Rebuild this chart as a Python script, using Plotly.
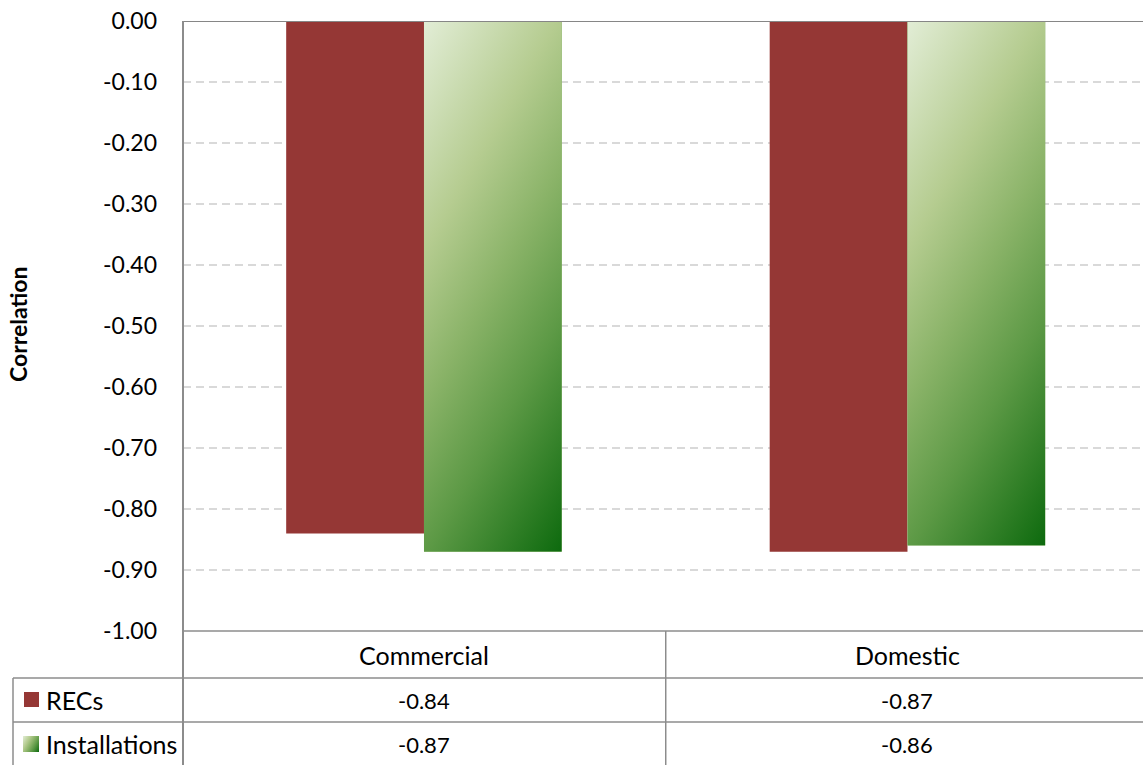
import base64
import plotly.graph_objects as go

# Correlation of each series with the driver, per sector
categories = ["Commercial", "Domestic"]
series_names = ["RECs", "Installations"]
recs = [-0.84, -0.87]
installations = [-0.87, -0.86]
y_ticks = [0, -0.1, -0.2, -0.3, -0.4, -0.5, -0.6, -0.7, -0.8, -0.9, -1.0]

W, H = 1143, 765
L, R, T, B = 183, 0, 21, 134
PW, PH = W - L - R, H - T - B
FONT = "Lato, 'Open Sans', sans-serif"
RED = "#953735"
GRID = "#d9d9d9"
LINE = "#8c8c8c"
BAR_W = 0.285
X_RANGE = [-0.4984, 1.4871]
Y_RANGE = [-1.0, 0.0]
WORD_SIZE = 25
NUM_SIZE = 22

GRAD_STOPS = [(0.0, "#e2edd6"), (0.3, "#b5cc90"), (0.5, "#8ab368"),
              (0.7, "#5c9945"), (1.0, "#0d6a0e")]


def gradient_uri(w, h):
    """Diagonal green fill as an SVG data URI, w x h in pixels."""
    nx, ny = 0.865, 0.501
    length = nx * w + ny * h
    stops = "".join(f'<stop offset="{o}" stop-color="{c}"/>' for o, c in GRAD_STOPS)
    svg = (f'<svg xmlns="http://www.w3.org/2000/svg" width="{w:.1f}" height="{h:.1f}" '
           f'viewBox="0 0 {w:.1f} {h:.1f}" preserveAspectRatio="none">'
           f'<defs><linearGradient id="g" gradientUnits="userSpaceOnUse" x1="0" y1="0" '
           f'x2="{nx * length:.2f}" y2="{ny * length:.2f}">{stops}</linearGradient></defs>'
           f'<rect x="0" y="0" width="{w:.1f}" height="{h:.1f}" fill="url(#g)"/></svg>')
    return "data:image/svg+xml;base64," + base64.b64encode(svg.encode()).decode()


def px_x(px):
    return (px - L) / PW


def px_y(py):
    return (H - B - py) / PH


x_pos = list(range(len(categories)))
x_scale = PW / (X_RANGE[1] - X_RANGE[0])
y_scale = PH / (Y_RANGE[1] - Y_RANGE[0])


def data_to_px(xv):
    return L + (xv - X_RANGE[0]) * x_scale


fig = go.Figure()
fig.add_trace(go.Bar(x=x_pos, y=recs, name=series_names[0], offset=-BAR_W, width=BAR_W,
                     marker=dict(color=RED, line=dict(width=0)), hoverinfo="skip"))
fig.add_trace(go.Bar(x=x_pos, y=installations, name=series_names[1], offset=0, width=BAR_W,
                     marker=dict(color="#7fae5e", line=dict(width=0)), hoverinfo="skip"))

images = []
for xi, v in zip(x_pos, installations):
    images.append(dict(source=gradient_uri(BAR_W * x_scale, abs(v) * y_scale),
                       xref="x", yref="y", x=xi, y=0, sizex=BAR_W, sizey=abs(v),
                       xanchor="left", yanchor="top", sizing="stretch", layer="above"))

# legend keys inside the data table
images.append(dict(source=gradient_uri(16, 16), xref="paper", yref="paper",
                   x=px_x(23), y=px_y(736), sizex=16 / PW, sizey=16 / PH,
                   xanchor="left", yanchor="top", sizing="stretch", layer="above"))

shapes = []


def hline(y0, xa, xb, color=LINE, width=1.5):
    shapes.append(dict(type="line", xref="paper", yref="paper", x0=px_x(xa), x1=px_x(xb),
                       y0=px_y(y0), y1=px_y(y0), line=dict(color=color, width=width)))


def vline(x0, ya, yb, color=LINE, width=1.5):
    shapes.append(dict(type="line", xref="paper", yref="paper", x0=px_x(x0), x1=px_x(x0),
                       y0=px_y(ya), y1=px_y(yb), line=dict(color=color, width=width)))


# category axis line at zero
shapes.append(dict(type="line", xref="paper", yref="y", x0=0, x1=1, y0=0, y1=0,
                   line=dict(color="#868686", width=2)))
# value axis and data table grid
col_edge = data_to_px(0.5)
vline(L, T, H + 2, width=2)
hline(H - B, L, W + 2)
hline(678, 13, W + 2)
hline(722, 13, W + 2)
vline(col_edge, H - B, H + 2)
vline(13, 678, H + 2)
# RECs legend key
shapes.append(dict(type="rect", xref="paper", yref="paper", x0=px_x(24), x1=px_x(39),
                   y0=px_y(707), y1=px_y(692), line=dict(width=0), fillcolor=RED))

annotations = []
col_centers = [data_to_px(xi) for xi in x_pos]
row_centers = {"cat": 655, "recs": 700, "inst": 744}
for cx, cat, r, i in zip(col_centers, categories, recs, installations):
    for txt, ry, size in ((cat, row_centers["cat"], WORD_SIZE),
                          (f"{r:.2f}", row_centers["recs"], NUM_SIZE),
                          (f"{i:.2f}", row_centers["inst"], NUM_SIZE)):
        annotations.append(dict(text=txt, xref="paper", yref="paper", x=px_x(cx), y=px_y(ry),
                                xanchor="center", yanchor="middle", showarrow=False,
                                font=dict(family=FONT, size=size, color="#000000")))
for name, ry in zip(series_names, (row_centers["recs"], row_centers["inst"])):
    annotations.append(dict(text=name, xref="paper", yref="paper", x=px_x(44), y=px_y(ry),
                            xanchor="left", yanchor="middle", showarrow=False,
                            font=dict(family=FONT, size=WORD_SIZE, color="#000000")))
annotations.append(dict(text="<b>Correlation</b>", xref="paper", yref="paper",
                        x=px_x(18), y=px_y(324), textangle=-90, xanchor="center",
                        yanchor="middle", showarrow=False,
                        font=dict(family=FONT, size=23, color="#000000")))


def tick_label(v):
    return "0.00" if v == 0 else f"{v:.2f}"


fig.update_layout(
    width=W, height=H, margin=dict(l=L, r=R, t=T, b=B, autoexpand=False),
    paper_bgcolor="white", plot_bgcolor="white", showlegend=False,
    barmode="overlay",
    xaxis=dict(range=X_RANGE, showgrid=False, zeroline=False, showticklabels=False,
               ticks="", showline=False, fixedrange=True),
    yaxis=dict(range=Y_RANGE, tickvals=y_ticks, ticktext=[tick_label(v) for v in y_ticks],
               showgrid=True, gridcolor=GRID, gridwidth=1.5, griddash="8px,5px",
               zeroline=False, showline=False, ticks="", ticklabelstandoff=25,
               tickfont=dict(family=FONT, size=23, color="#000000"), fixedrange=True),
    shapes=shapes, images=images, annotations=annotations,
)

fig.write_html("out.html")
